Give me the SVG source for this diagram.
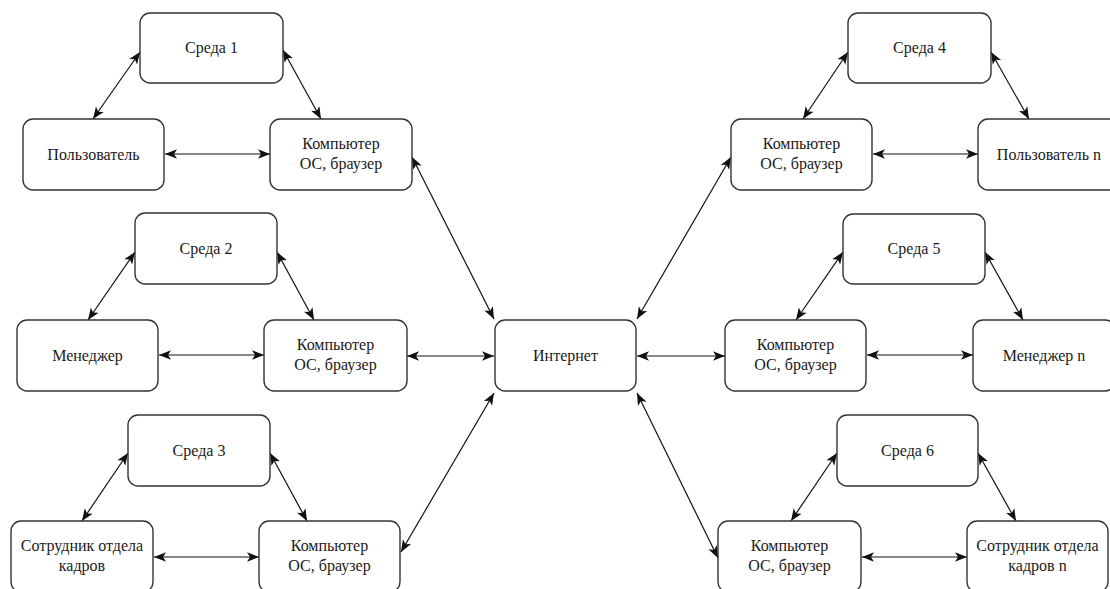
<svg xmlns="http://www.w3.org/2000/svg" width="1110" height="589" viewBox="0 0 1110 589">
<style>
.box{fill:#fff;stroke:#333;stroke-width:1.4}
.t{fill:#1a1a1a;text-anchor:middle}
.e{stroke:#111;stroke-width:1.2;fill:none;marker-start:url(#a);marker-end:url(#a)}
</style>
<defs>
<marker id="a" markerUnits="userSpaceOnUse" markerWidth="12" markerHeight="12" viewBox="0 0 10 10" refX="10" refY="5" orient="auto-start-reverse">
<path d="M0,1 L10,5 L0,9 L2.5,5 z" fill="#111"/>
</marker>
</defs>
<rect width="1110" height="589" fill="#fff"/>
<g id="connectors">
<line class="e" x1="93" y1="119" x2="140" y2="52"/>
<line class="e" x1="283" y1="50" x2="321" y2="119"/>
<line class="e" x1="165" y1="154" x2="270" y2="154"/>
<line class="e" x1="412" y1="157" x2="494" y2="319"/>
<line class="e" x1="88" y1="320" x2="135" y2="252"/>
<line class="e" x1="277" y1="252" x2="314" y2="320"/>
<line class="e" x1="159" y1="355" x2="264" y2="355"/>
<line class="e" x1="407" y1="356" x2="494" y2="356"/>
<line class="e" x1="82" y1="521" x2="128" y2="453"/>
<line class="e" x1="270" y1="453" x2="307" y2="521"/>
<line class="e" x1="154" y1="557" x2="259" y2="557"/>
<line class="e" x1="401" y1="552" x2="494" y2="393"/>
<line class="e" x1="803" y1="119" x2="848" y2="52"/>
<line class="e" x1="991" y1="52" x2="1029" y2="119"/>
<line class="e" x1="873" y1="154" x2="978" y2="154"/>
<line class="e" x1="731" y1="157" x2="637" y2="319"/>
<line class="e" x1="796" y1="320" x2="843" y2="252"/>
<line class="e" x1="985" y1="252" x2="1023" y2="320"/>
<line class="e" x1="867" y1="355" x2="973" y2="355"/>
<line class="e" x1="637" y1="356" x2="725" y2="356"/>
<line class="e" x1="791" y1="521" x2="837" y2="453"/>
<line class="e" x1="978" y1="453" x2="1016" y2="521"/>
<line class="e" x1="862" y1="557" x2="967" y2="557"/>
<line class="e" x1="637" y1="393" x2="718" y2="558"/>
</g>
<g id="nodes">
<g id="sreda1"><rect class="box" x="140" y="13" width="143" height="70" rx="10"/><text class="t" font-family="'Liberation Serif', serif" font-size="16" x="211.5" y="53">Среда 1</text></g>
<g id="user1"><rect class="box" x="23" y="119" width="141" height="71" rx="10"/><text class="t" font-family="'Liberation Serif', serif" font-size="16" x="93.5" y="160">Пользователь</text></g>
<g id="comp1"><rect class="box" x="270" y="119" width="142" height="71" rx="10"/><text class="t" font-family="'Liberation Serif', serif" font-size="16" x="341" y="149">Компьютер</text><text class="t" font-family="'Liberation Serif', serif" font-size="16" x="341" y="169">ОС, браузер</text></g>
<g id="sreda2"><rect class="box" x="135" y="213" width="142" height="71" rx="10"/><text class="t" font-family="'Liberation Serif', serif" font-size="16" x="206" y="254">Среда 2</text></g>
<g id="manager1"><rect class="box" x="17" y="320" width="141" height="71" rx="10"/><text class="t" font-family="'Liberation Serif', serif" font-size="16" x="87.5" y="361">Менеджер</text></g>
<g id="comp2"><rect class="box" x="264" y="320" width="143" height="71" rx="10"/><text class="t" font-family="'Liberation Serif', serif" font-size="16" x="335.5" y="350">Компьютер</text><text class="t" font-family="'Liberation Serif', serif" font-size="16" x="335.5" y="370">ОС, браузер</text></g>
<g id="sreda3"><rect class="box" x="128" y="415" width="142" height="71" rx="10"/><text class="t" font-family="'Liberation Serif', serif" font-size="16" x="199" y="456">Среда 3</text></g>
<g id="hr1"><rect class="box" x="11" y="521" width="142" height="71" rx="10"/><text class="t" font-family="'Liberation Serif', serif" font-size="16" x="82" y="551">Сотрудник отдела</text><text class="t" font-family="'Liberation Serif', serif" font-size="16" x="82" y="571">кадров</text></g>
<g id="comp3"><rect class="box" x="259" y="521" width="141" height="71" rx="10"/><text class="t" font-family="'Liberation Serif', serif" font-size="16" x="329.5" y="551">Компьютер</text><text class="t" font-family="'Liberation Serif', serif" font-size="16" x="329.5" y="571">ОС, браузер</text></g>
<g id="internet"><rect class="box" x="495" y="320" width="141" height="71" rx="10"/><text class="t" font-family="'Liberation Serif', serif" font-size="16" x="565.5" y="361">Интернет</text></g>
<g id="sreda4"><rect class="box" x="848" y="13" width="143" height="70" rx="10"/><text class="t" font-family="'Liberation Serif', serif" font-size="16" x="919.5" y="53">Среда 4</text></g>
<g id="comp4"><rect class="box" x="731" y="119" width="141" height="71" rx="10"/><text class="t" font-family="'Liberation Serif', serif" font-size="16" x="801.5" y="149">Компьютер</text><text class="t" font-family="'Liberation Serif', serif" font-size="16" x="801.5" y="169">ОС, браузер</text></g>
<g id="usern"><rect class="box" x="978" y="119" width="142" height="71" rx="10"/><text class="t" font-family="'Liberation Serif', serif" font-size="16" x="1049" y="160">Пользователь n</text></g>
<g id="sreda5"><rect class="box" x="843" y="214" width="142" height="70" rx="10"/><text class="t" font-family="'Liberation Serif', serif" font-size="16" x="914" y="254">Среда 5</text></g>
<g id="comp5"><rect class="box" x="725" y="320" width="141" height="71" rx="10"/><text class="t" font-family="'Liberation Serif', serif" font-size="16" x="795.5" y="350">Компьютер</text><text class="t" font-family="'Liberation Serif', serif" font-size="16" x="795.5" y="370">ОС, браузер</text></g>
<g id="managern"><rect class="box" x="973" y="320" width="142" height="71" rx="10"/><text class="t" font-family="'Liberation Serif', serif" font-size="16" x="1044" y="361">Менеджер n</text></g>
<g id="sreda6"><rect class="box" x="837" y="415" width="141" height="71" rx="10"/><text class="t" font-family="'Liberation Serif', serif" font-size="16" x="907.5" y="456">Среда 6</text></g>
<g id="comp6"><rect class="box" x="718" y="521" width="143" height="71" rx="10"/><text class="t" font-family="'Liberation Serif', serif" font-size="16" x="789.5" y="551">Компьютер</text><text class="t" font-family="'Liberation Serif', serif" font-size="16" x="789.5" y="571">ОС, браузер</text></g>
<g id="hrn"><rect class="box" x="967" y="521" width="141" height="71" rx="10"/><text class="t" font-family="'Liberation Serif', serif" font-size="16" x="1037.5" y="551">Сотрудник отдела</text><text class="t" font-family="'Liberation Serif', serif" font-size="16" x="1037.5" y="571">кадров n</text></g>
</g>
</svg>
